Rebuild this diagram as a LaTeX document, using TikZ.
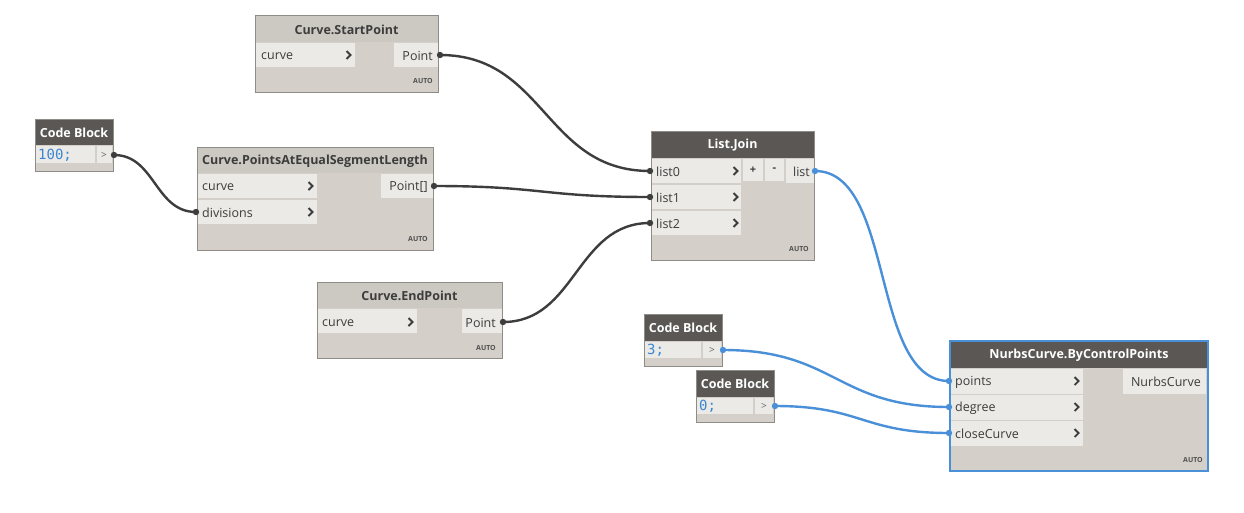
\documentclass[tikz,border=0pt]{standalone}
\usepackage{fontspec}
\setmainfont{Open Sans}
\newfontfamily\codefont{DejaVu Sans Mono}
\definecolor{hdark}{HTML}{5A5754}
\definecolor{hlight}{HTML}{CCC8C2}
\definecolor{bodyc}{HTML}{D4D0C9}
\definecolor{rowc}{HTML}{EBEAE6}
\definecolor{borderc}{HTML}{8F8C88}
\definecolor{txt}{HTML}{3C3C3C}
\definecolor{wired}{HTML}{3D3D3D}
\definecolor{wireb}{HTML}{4A90D9}
\definecolor{codeb}{HTML}{3A86D3}
\newcommand\chev[2]{\draw[txt,line width=1.8pt] (#1-2.5,#2-4) -- (#1+1.5,#2) -- (#1-2.5,#2+4);}
\begin{document}
\begin{tikzpicture}[x=1pt,y=-1pt,
  frame/.style={fill=bodyc,draw=borderc,line width=1pt},
  hdrd/.style={fill=hdark},
  hdrl/.style={fill=hlight},
  rowbox/.style={fill=rowc},
  title/.style={font=\fontsize{12.5}{14}\selectfont\bfseries,inner sep=0pt},
  titled/.style={title,text=white},
  titlel/.style={title,text=txt},
  lbl/.style={font=\fontsize{12.5}{14}\selectfont,text=txt,inner sep=0pt},
  auto/.style={font=\fontsize{7}{8}\selectfont\bfseries,text=txt!90,inner sep=0pt,anchor=east},
  code/.style={font=\codefont\fontsize{14}{16}\selectfont,text=codeb,inner sep=0pt,anchor=west},
  cgt/.style={font=\fontsize{10}{11}\selectfont,text=txt!80,inner sep=0pt},
  wd/.style={draw=wired,line width=2.4pt},
  wb/.style={draw=wireb,line width=2.4pt},
  dotd/.style={fill=wired},
  dotb/.style={fill=wireb}]
\useasboundingbox[fill=white] (0,0) rectangle (1244,512);

% ---------- Curve.StartPoint ----------
\path[frame] (255,15) rectangle (438,92);
\path[hdrl] (255.5,15.5) rectangle (437.5,42);
\path[rowbox] (256,42.5) rectangle (355,67);
\path[rowbox] (394,42.5) rectangle (437.5,67);
\node[titlel] (spt) at (346.5,29.5) {Curve.StartPoint};
\node[lbl,anchor=west] (spc) at (261,56) {curve};
\chev{349}{55}
\node[lbl,anchor=east] (spp) at (433,56) {Point};
\node[auto] (spa) at (433,81) {AUTO};
\coordinate (spout) at (440,55);

% ---------- Code Block 100 ----------
\path[frame] (35,119) rectangle (113,171);
\path[hdrd] (35.5,119.5) rectangle (112.5,145);
\path[rowbox] (36,146) rectangle (95,163);
\path[rowbox] (97,146) rectangle (112,163);
\node[titled] (c1t) at (74,132.5) {Code Block};
\node[code] (c1v) at (38,155) {100;};
\node[cgt] (c1g) at (104,155) {>};
\coordinate (c1out) at (114,155);

% ---------- Curve.PointsAtEqualSegmentLength ----------
\path[frame] (197,147) rectangle (433,250);
\path[hdrl] (197.5,147.5) rectangle (432.5,173);
\path[rowbox] (198,173.5) rectangle (317,198);
\path[rowbox] (198,199.5) rectangle (317,224);
\path[rowbox] (381,173.5) rectangle (432.5,198);
\node[titlel] (pet) at (315,161) {Curve.PointsAtEqualSegmentLength};
\node[lbl,anchor=west] (pec) at (202,187) {curve};
\node[lbl,anchor=west] (ped) at (202,213) {divisions};
\chev{311}{186}
\chev{311}{212}
\node[lbl,anchor=east] (pep) at (428,187) {Point[]};
\node[auto] (pea) at (428,239) {AUTO};
\coordinate (pediv) at (196,212);
\coordinate (peout) at (434,186);

% ---------- Curve.EndPoint ----------
\path[frame] (317,282) rectangle (502,358);
\path[hdrl] (317.5,282.5) rectangle (501.5,308);
\path[rowbox] (318,308.5) rectangle (417,333);
\path[rowbox] (462,308.5) rectangle (501.5,333);
\node[titlel] (ept) at (409.5,296) {Curve.EndPoint};
\node[lbl,anchor=west] (epc) at (322,323) {curve};
\chev{411}{322}
\node[lbl,anchor=east] (epp) at (496,323) {Point};
\node[auto] (epa) at (496,348) {AUTO};
\coordinate (epout) at (503,322);

% ---------- List.Join ----------
\path[frame] (651,131) rectangle (814,260);
\path[hdrd] (651.5,131.5) rectangle (813.5,158);
\path[rowbox] (652,158.5) rectangle (741,183);
\path[rowbox] (652,184.5) rectangle (741,209);
\path[rowbox] (652,210.5) rectangle (741,235);
\path[rowbox] (743,158.5) rectangle (763,181);
\path[rowbox] (765,158.5) rectangle (784,181);
\path[rowbox] (786,158.5) rectangle (813.5,183);
\node[titled] (ljt) at (732.5,145) {List.Join};
\node[lbl,anchor=west] (lj0) at (656,172) {list0};
\node[lbl,anchor=west] (lj1) at (656,198) {list1};
\node[lbl,anchor=west] (lj2) at (656,224) {list2};
\chev{736}{171}
\chev{736}{197}
\chev{736}{223}
\node[lbl,font=\fontsize{11}{12}\selectfont\bfseries] (ljplus) at (753,170) {+};
\node[lbl,font=\fontsize{11}{12}\selectfont\bfseries] (ljminus) at (774.5,170) {-};
\node[lbl,anchor=east] (ljl) at (810,172) {list};
\node[auto] (lja) at (809,249) {AUTO};
\coordinate (ljin0) at (650,171);
\coordinate (ljin1) at (650,197);
\coordinate (ljin2) at (650,223);
\coordinate (ljout) at (815,171);

% ---------- Code Block 3 ----------
\path[frame] (644,314) rectangle (722,366);
\path[hdrd] (644.5,314.5) rectangle (721.5,341);
\path[rowbox] (645,342) rectangle (701,358);
\path[rowbox] (703,342) rectangle (721,358);
\node[titled] (c3t) at (683,328) {Code Block};
\node[code] (c3v) at (647,350.5) {3;};
\node[cgt] (c3g) at (712,350) {>};
\coordinate (c3out) at (723,350);

% ---------- Code Block 0 ----------
\path[frame] (696,370) rectangle (774,422);
\path[hdrd] (696.5,370.5) rectangle (773.5,397);
\path[rowbox] (697,398) rectangle (753,414);
\path[rowbox] (755,398) rectangle (773,414);
\node[titled] (c0t) at (735,384) {Code Block};
\node[code] (c0v) at (699,406.5) {0;};
\node[cgt] (c0g) at (764,406) {>};
\coordinate (c0out) at (775,406);

% ---------- NurbsCurve.ByControlPoints ----------
\path[fill=bodyc,draw=wireb,line width=2pt] (950,341) rectangle (1208,471);
\path[hdrd] (951,342) rectangle (1207,368);
\path[rowbox] (951,368.5) rectangle (1083,394);
\path[rowbox] (951,395) rectangle (1083,420);
\path[rowbox] (951,421) rectangle (1083,446);
\path[rowbox] (1123,368.5) rectangle (1206,394);
\node[titled] (nct) at (1079,355) {NurbsCurve.ByControlPoints};
\node[lbl,anchor=west] (ncp) at (955,382) {points};
\node[lbl,anchor=west] (ncd) at (955,408) {degree};
\node[lbl,anchor=west] (ncc) at (955,434) {closeCurve};
\chev{1077}{381}
\chev{1077}{407}
\chev{1077}{433}
\node[lbl,anchor=east] (nco) at (1201,382) {NurbsCurve};
\node[auto] (nca) at (1203,460) {AUTO};
\coordinate (ncin0) at (949,381);
\coordinate (ncin1) at (949,407);
\coordinate (ncin2) at (949,433);

% ---------- wires ----------
\draw[wd] (c1out) .. controls (155,155) and (155,212) .. (pediv);
\draw[wd] (spout) .. controls (545,55) and (545,171) .. (ljin0);
\draw[wd] (peout) .. controls (542,186) and (542,197) .. (ljin1);
\draw[wd] (epout) .. controls (576,322) and (576,223) .. (ljin2);
\draw[wb] (ljout) .. controls (895,171) and (870,381) .. (ncin0);
\draw[wb] (c3out) .. controls (836,350) and (836,407) .. (ncin1);
\draw[wb] (c0out) .. controls (862,406) and (862,433) .. (ncin2);

% ---------- port marks ----------
\foreach \p in {c1out,pediv,spout,ljin0,peout,ljin1,epout,ljin2}{\fill[dotd] (\p) circle (3.2pt);}
\foreach \p in {ljout,ncin0,c3out,ncin1,c0out,ncin2}{\fill[dotb] (\p) circle (3.2pt);}
\end{tikzpicture}
\end{document}
